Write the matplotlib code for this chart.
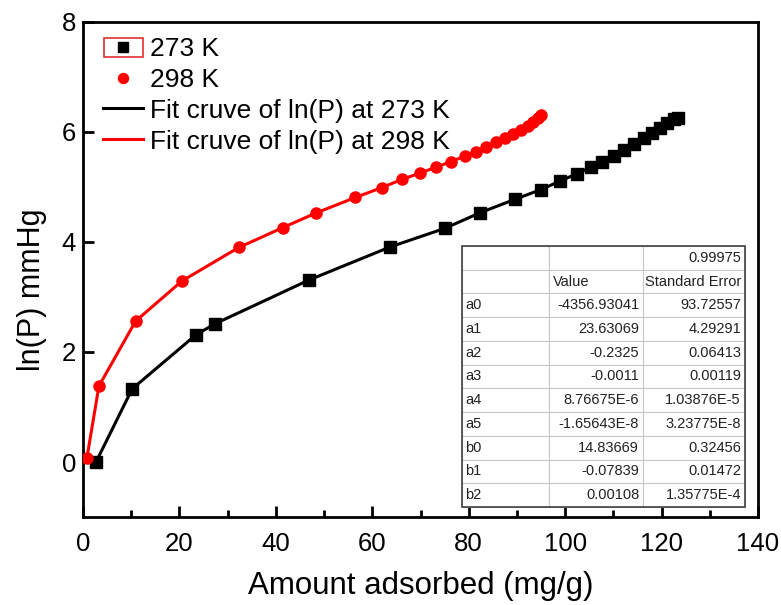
import matplotlib
matplotlib.use("Agg")
import matplotlib.pyplot as plt
from matplotlib.patches import Rectangle
from matplotlib.ticker import MultipleLocator

plt.rcParams['font.family'] = ['Liberation Sans', 'DejaVu Sans']

# DATA
x_273 = [2.7, 10.2, 23.4, 27.3, 46.9, 63.7, 75.1, 82.3, 89.7, 94.9, 99.0, 102.4,
         105.3, 107.7, 110.2, 112.3, 114.3, 116.4, 118.1, 119.7, 121.2, 122.6, 123.4]
y_273 = [0.00, 1.33, 2.31, 2.51, 3.31, 3.91, 4.25, 4.53, 4.78, 4.95, 5.11, 5.24,
         5.36, 5.45, 5.57, 5.68, 5.79, 5.89, 5.98, 6.07, 6.16, 6.23, 6.26]

x_298 = [0.8, 3.3, 10.9, 20.5, 32.3, 41.4, 48.4, 56.5, 62.0, 66.2, 69.8, 73.2,
         76.3, 79.2, 81.5, 83.5, 85.6, 87.5, 89.1, 90.8, 92.2, 93.3, 94.3, 95.0]
y_298 = [0.07, 1.38, 2.56, 3.29, 3.90, 4.26, 4.53, 4.81, 4.99, 5.14, 5.25, 5.36,
         5.46, 5.56, 5.64, 5.73, 5.82, 5.89, 5.96, 6.04, 6.11, 6.19, 6.26, 6.31]

legend_labels = ["273 K", "298 K",
                 "Fit cruve of ln(P) at 273 K", "Fit cruve of ln(P) at 298 K"]

x_ticks = [0, 20, 40, 60, 80, 100, 120, 140]
y_ticks = [0, 2, 4, 6, 8]

table_rows = [
    ["", "", "0.99975"],
    ["", "Value", "Standard Error"],
    ["a0", "-4356.93041", "93.72557"],
    ["a1", "23.63069", "4.29291"],
    ["a2", "-0.2325", "0.06413"],
    ["a3", "-0.0011", "0.00119"],
    ["a4", "8.76675E-6", "1.03876E-5"],
    ["a5", "-1.65643E-8", "3.23775E-8"],
    ["b0", "14.83669", "0.32456"],
    ["b1", "-0.07839", "0.01472"],
    ["b2", "0.00108", "1.35775E-4"],
]

W, H = 781, 605
L, R, T, B = 83, 758, 22, 517
fig = plt.figure(figsize=(W / 100, H / 100), dpi=100)
ax = fig.add_axes([L / W, 1 - B / H, (R - L) / W, (B - T) / H])

# fit curves
l1, = ax.plot(x_273, y_273, '-', color='black', lw=2.2, zorder=2)
l2, = ax.plot(x_298, y_298, '-', color='#ff0000', lw=2.2, zorder=2)
# points
p1, = ax.plot(x_273, y_273, 's', color='black', ms=8, zorder=3, ls='none')
p2, = ax.plot(x_298, y_298, 'o', color='#ff0000', ms=8, zorder=3, ls='none')

ax.set_xlim(0, 140)
ax.set_ylim(-1, 8)
ax.set_xticks(x_ticks)
ax.set_yticks(y_ticks)
ax.xaxis.set_minor_locator(MultipleLocator(10))
ax.tick_params(which='major', direction='in', length=8, width=2, labelsize=18.5)
ax.tick_params(which='minor', direction='in', length=5, width=2)
ax.tick_params(axis='x', which='major', pad=10.5)
ax.tick_params(axis='y', which='major', pad=5)
for s in ax.spines.values():
    s.set_linewidth(2)

ax.set_xlabel("Amount adsorbed (mg/g)", fontsize=22.5)
ax.xaxis.set_label_coords(0.5, (B - 571) / (B - T))
ax.set_ylabel("ln(P) mmHg", fontsize=22)
ax.yaxis.set_label_coords((47 - L) / (R - L), (B - 290) / (B - T))

leg = ax.legend([p1, p2, l1, l2], legend_labels, loc='upper left',
                bbox_to_anchor=(20 / (R - L), 1 - 15 / (B - T)), frameon=False,
                fontsize=19, handlelength=1.52, handletextpad=0.27,
                labelspacing=0.26, borderpad=0, borderaxespad=0,
                markerscale=0.9)

# red selection box round the first legend symbol
fig.patches.append(Rectangle((104 / W, 1 - 57 / H), 39 / W, 19 / H,
                             transform=fig.transFigure, fill=False,
                             ec='#e03030', lw=1.2, zorder=10))

# parameter table
tax = fig.add_axes([462 / W, 1 - 507 / H, (745 - 462) / W, (507 - 246) / H])
tax.axis('off')
tbl = tax.table(cellText=table_rows, bbox=[0, 0, 1, 1],
                colWidths=[87, 94, 102], cellLoc='right')
tbl.auto_set_font_size(False)
for (r, c), cell in tbl.get_celld().items():
    cell.set_edgecolor('#c8c8c8')
    cell.set_linewidth(0.8)
    cell.set_text_props(fontsize=10.5, color='#222222')
    cell.PAD = 0.04
    if c == 0 or (r == 1 and c == 1):
        cell._loc = 'left'
        cell.get_text().set_ha('left')
tax.add_patch(Rectangle((0, 0), 1, 1, transform=tax.transAxes, fill=False,
                        ec='#404040', lw=1.2, zorder=5, clip_on=False))

fig.savefig("out.png", dpi=100)
